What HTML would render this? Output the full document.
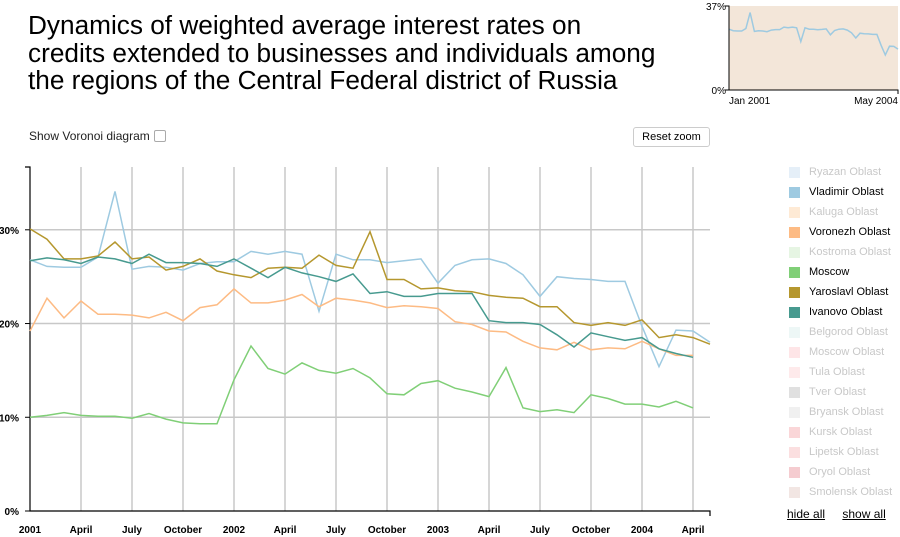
<!DOCTYPE html>
<html><head><meta charset="utf-8">
<style>
body{margin:0;width:900px;height:537px;overflow:hidden;background:#fff;font-family:"Liberation Sans",sans-serif;position:relative}
#title{position:absolute;left:28px;top:12px;font-size:26.2px;line-height:27.5px;color:#000;margin:0;font-weight:normal;white-space:nowrap}
#vor{position:absolute;left:29px;top:129px;font-size:12px;color:#222}
#vor span.cb{display:inline-block;width:10px;height:10px;border:1px solid #aaa;border-radius:2px;vertical-align:-2px;margin-left:4px}
#reset{position:absolute;left:633px;top:127px;width:75px;height:18px;border:1px solid #ccc;border-radius:3px;font-size:11px;text-align:center;line-height:18px;background:#fff}
.leg{position:absolute;left:789px;font-size:11px;height:14px;line-height:12px}
.leg .sw{position:absolute;left:0;top:1px;width:11px;height:11px}
.leg .tx{position:absolute;left:20px;top:0;white-space:nowrap}
#links{position:absolute;left:787px;top:507px;font-size:12px;white-space:nowrap;width:120px}
#links a{color:#000;text-decoration:underline;margin-right:14px}
svg text{font-family:"Liberation Sans",sans-serif}
</style></head><body>
<h1 id="title">Dynamics of weighted average interest rates on<br>credits extended to businesses and individuals among<br>the regions of the Central Federal district of Russia</h1>
<div id="vor">Show Voronoi diagram<span class="cb"></span></div>
<div id="reset">Reset zoom</div>
<svg id="main" width="900" height="537" style="position:absolute;left:0;top:0"></svg>
<div id="legend"></div>
<div id="links"><a>hide all</a> <a>show all</a></div>
<script>
const monthLabels=["2001","April","July","October","2002","April","July","October","2003","April","July","October","2004","April"];
const yTicks=[0,10,20,30];
const vladimir=[26.8,26.1,26.0,26.0,27.1,34.1,25.8,26.1,26.0,25.7,26.4,26.6,26.6,27.7,27.4,27.7,27.4,21.3,27.4,26.8,26.8,26.5,26.7,26.9,24.3,26.2,26.8,26.9,26.4,25.2,22.9,25.0,24.8,24.7,24.5,24.5,19.7,15.4,19.3,19.2,18.0];
const voronezh=[19.2,22.7,20.6,22.4,21.0,21.0,20.9,20.6,21.2,20.3,21.7,22.0,23.7,22.2,22.2,22.5,23.1,21.8,22.7,22.5,22.2,21.7,21.9,21.8,21.6,20.2,19.9,19.2,19.1,18.1,17.4,17.2,18.0,17.2,17.4,17.3,18.1,17.3,16.6,16.6];
const moscow=[10.0,10.2,10.5,10.2,10.1,10.1,9.9,10.4,9.8,9.4,9.3,9.3,14.0,17.6,15.2,14.6,15.8,15.0,14.7,15.2,14.2,12.5,12.4,13.6,13.9,13.1,12.7,12.2,15.3,11.0,10.6,10.8,10.5,12.4,12.0,11.4,11.4,11.1,11.7,11.0];
const yaroslavl=[30.1,29.0,26.9,26.9,27.2,28.7,26.9,27.1,25.7,26.1,26.9,25.6,25.2,24.9,25.9,26.0,25.9,27.3,26.2,25.9,29.8,24.7,24.7,23.7,23.8,23.5,23.4,23.0,22.8,22.7,21.8,21.8,20.1,19.8,20.1,19.8,20.4,18.5,18.8,18.5,17.8];
const ivanovo=[26.7,27.0,26.8,26.4,27.1,26.9,26.4,27.4,26.5,26.5,26.4,26.1,26.9,25.9,24.9,26.0,25.4,25.0,24.5,25.3,23.2,23.4,22.9,22.9,23.2,23.2,23.2,20.3,20.1,20.1,19.9,18.8,17.5,19.0,18.6,18.2,18.5,17.3,16.8,16.4];
const legendNames=["Ryazan Oblast","Vladimir Oblast","Kaluga Oblast","Voronezh Oblast","Kostroma Oblast","Moscow","Yaroslavl Oblast","Ivanovo Oblast","Belgorod Oblast","Moscow Oblast","Tula Oblast","Tver Oblast","Bryansk Oblast","Kursk Oblast","Lipetsk Oblast","Oryol Oblast","Smolensk Oblast"];
const legendColors=["#c6dbef","#9ecae1","#fdd0a2","#fdbb84","#c7e9c0","#80cf77","#b5972e","#479a8f","#d8eeec","#fcc5c9","#fcd0d3","#bbbbbb","#dddddd","#f4a3a8","#f6b8bb","#e88f96","#e2c8c0"];
const legendActive=[false,true,false,true,false,true,true,true,false,false,false,false,false,false,false,false,false];

const NS="http://www.w3.org/2000/svg";
const svg=document.getElementById('main');
const X0=30,X1=710,MONTHS=40,Y0=511,YTOP=167,YMAX=36.7;
const x=m=>X0+(X1-X0)*m/MONTHS;
const y=v=>Y0-(Y0-YTOP)*v/YMAX;
function mk(tag,attrs,parent){const e=document.createElementNS(NS,tag);for(const k in attrs)e.setAttribute(k,attrs[k]);(parent||svg).appendChild(e);return e;}
monthLabels.forEach((lab,i)=>{
  const xx=x(i*3);
  if(i>0){const g=mk('line',{x1:xx,x2:xx,y1:YTOP,y2:Y0,stroke:'#c8c8c8','stroke-width':1.5});
  
  }
  const t=mk('text',{x:xx,y:533,'text-anchor':'middle','font-size':10,'font-weight':'bold',fill:'#000'});
  t.textContent=lab;
  
  
});
yTicks.forEach(v=>{
  const yy=y(v);
  if(v>0){const g=mk('line',{x1:X0,x2:X1,y1:yy,y2:yy,stroke:'#c8c8c8','stroke-width':1.5});
  
  }
  const t=mk('text',{x:19,y:yy+4,'text-anchor':'end','font-size':10,'font-weight':'bold',fill:'#000'});
  t.textContent=v+'%';
  
  
  mk('line',{x1:X0-5,x2:X0,y1:yy,y2:yy,stroke:'#000'});
});
const ax=mk('path',{d:`M${X0-5},${YTOP}H${X0}V${Y0}H${X1}V${Y0+5}`,fill:'none',stroke:'#000','stroke-width':1.2});


function line(data,color,name){
  const p=mk('path',{d:data.map((v,i)=>(i?'L':'M')+x(i).toFixed(1)+','+y(v).toFixed(1)).join(''),fill:'none',stroke:color,'stroke-width':1.5});
  
  
}
line(vladimir,'#9ecae1','line-vladimir');
line(voronezh,'#fdbb84','line-voronezh');
line(moscow,'#80cf77','line-moscow');
line(yaroslavl,'#b5972e','line-yaroslavl');
line(ivanovo,'#479a8f','line-ivanovo');
const MX0=729,MX1=898,MY0=90,MY1=6,MMAX=37;
const mx=m=>MX0+(MX1-MX0)*m/MONTHS, my=v=>MY0-(MY0-MY1)*v/MMAX;
const bg=mk('rect',{x:MX0,y:MY1,width:MX1-MX0,height:MY0-MY1,fill:'#f3e6d9'});


const mp=mk('path',{d:vladimir.map((v,i)=>(i?'L':'M')+mx(i).toFixed(1)+','+my(v).toFixed(1)).join(''),fill:'none',stroke:'#9ecae1','stroke-width':1.5});


mk('path',{d:`M${MX0-4},${MY1}H${MX0}V${MY0}H${MX1}V${MY0+4}M${MX0-4},${MY0}H${MX0}`,fill:'none',stroke:'#000'});
[['37%',MY1+4,MX0-3,'end'],['0%',MY0+4,MX0-3,'end']].forEach(([s,yy,xx,a])=>{const t=mk('text',{x:xx,y:yy,'text-anchor':a,'font-size':10});t.textContent=s;

});
[['Jan 2001',MX0,'start'],['May 2004',MX1,'end']].forEach(([s,xx,a])=>{const t=mk('text',{x:xx,y:104,'text-anchor':a,'font-size':10});t.textContent=s;

});
const L=document.getElementById('legend');
legendNames.forEach((n,i)=>{
  const d=document.createElement('div');d.className='leg';d.style.top=(166+i*20)+'px';
  
  
  const s=document.createElement('span');s.className='sw';s.style.background=legendColors[i];if(!legendActive[i])s.style.opacity=0.45;
  const t=document.createElement('span');t.className='tx';t.textContent=n;t.style.color=legendActive[i]?'#000':'#c8c8c8';
  d.appendChild(s);d.appendChild(t);L.appendChild(d);
});
</script>
</body></html>
